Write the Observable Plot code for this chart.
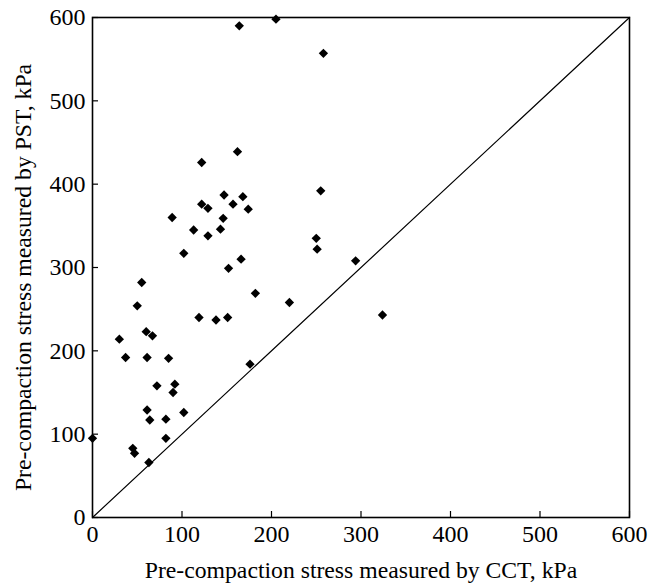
<!DOCTYPE html>
<html>
<head>
<meta charset="utf-8">
<script src="https://cdn.jsdelivr.net/npm/d3@7"></script>
<script src="https://cdn.jsdelivr.net/npm/@observablehq/plot@0.6"></script>
<style>
  html, body { margin: 0; padding: 0; background: #fff; }
  #chart svg { display: block; }
</style>
</head>
<body>
<div id="chart"></div>
<script>
// Pre-compaction stress (kPa) measured by CCT (x) and PST (y)
const cct = [164, 205, 258, 162, 122, 255, 147, 168, 122, 157, 129, 174, 89, 146, 113, 143, 129, 250, 251, 102, 166, 152, 294,
             55, 50, 182, 220, 119, 138, 151, 30, 60, 67, 37, 61, 85, 176, 72, 92, 90, 61, 64, 82, 102, 82, 0, 45, 47, 63, 324];
const pst = [590, 598, 557, 439, 426, 392, 387, 385, 376, 376, 371, 370, 360, 359, 345, 346, 338, 335, 322, 317, 310, 299, 308,
             282, 254, 269, 258, 240, 237, 240, 214, 223, 218, 192, 192, 191, 184, 158, 160, 150, 129, 117, 118, 126, 95, 95, 83, 77, 66, 243];
const identityLine = [0, 600];
const xTicks = [0, 100, 200, 300, 400, 500, 600];
const yTicks = [0, 100, 200, 300, 400, 500, 600];
const xLabel = "Pre-compaction stress measured by CCT, kPa";
const yLabel = "Pre-compaction stress measured by PST, kPa";

const points = cct.map((x, i) => ({x, y: pst[i]}));
const font = "'Liberation Serif', 'Times New Roman', serif";

const chart = Plot.plot({
  width: 656,
  height: 583,
  marginLeft: 92,
  marginRight: 27,
  marginTop: 17,
  marginBottom: 66,
  style: {fontFamily: font, fontSize: "24px", color: "#000", background: "#fff"},
  x: {domain: [0, 600]},
  y: {domain: [0, 600]},
  marks: [
    Plot.line(identityLine, {x: d => d, y: d => d, stroke: "#000", strokeWidth: 1.2}),
    Plot.dot(points, {x: "x", y: "y", symbol: "diamond2", r: 4.2, fill: "#000", stroke: "none"}),
    Plot.frame({stroke: "#000", strokeWidth: 1.6}),
    Plot.axisX({ticks: xTicks, tickSize: -6, tickPadding: 13, tickFormat: d => String(d), label: null, fontSize: 24, strokeWidth: 1.2}),
    Plot.axisY({ticks: yTicks, tickSize: -6, tickPadding: 13, tickFormat: d => String(d), label: null, fontSize: 24, strokeWidth: 1.2}),
    Plot.text([xLabel], {text: d => d, frameAnchor: "bottom", lineAnchor: "bottom", dy: 60, fontSize: 23.7}),
    Plot.text([yLabel], {text: d => d, frameAnchor: "left", textAnchor: "middle", rotate: -90, dx: -69, dy: 10, fontSize: 23.7})
  ]
});
document.getElementById("chart").appendChild(chart);
</script>
</body>
</html>
